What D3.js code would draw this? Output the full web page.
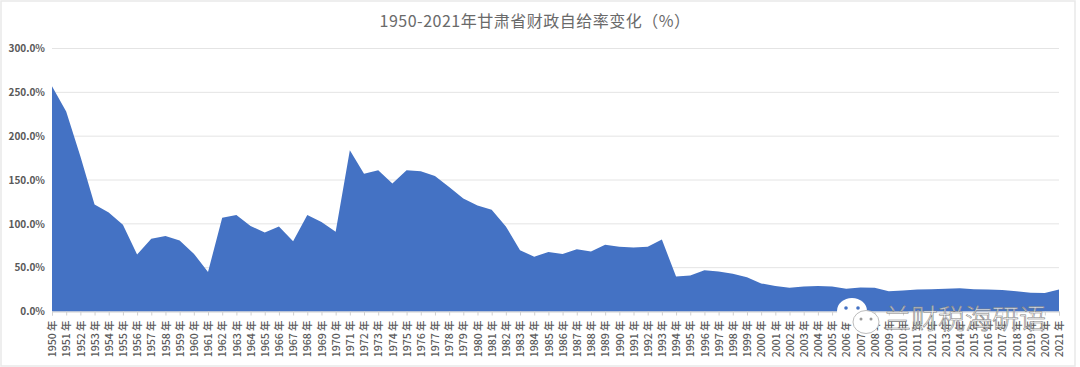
<!DOCTYPE html>
<html>
<head>
<meta charset="utf-8">
<script src="https://cdn.jsdelivr.net/npm/d3@7"></script>
<style>
  html, body { margin: 0; padding: 0; background: #fff; }
  svg { display: block; }
</style>
</head>
<body>
<script>
const years = d3.range(1950, 2022).map(String);
const rates = [257,228,177,122,113,99,65,83,86,81,66,45,107,110,97.5,90,97,80,110,102,91,184,
  157,161,146,161,160,154.5,142,129,121,116,97,70,62.5,68,65.5,71,68.5,76,74,73,74,82,40,41,47,45.5,
  43,39,32,29,27,28.5,29,28.5,26,27.5,27,23,24,25,25.5,26,26.5,25.5,25,24.5,23,21.5,21,25];
const yTicks = [0,50,100,150,200,250,300];
const titleText = "1950-2021年甘肃省财政自给率变化（%）";
const watermarkText = "兰财税海研语";

const width = 1080, height = 367;
const font = "'Noto Sans CJK SC', 'Noto Sans', sans-serif";

const svg = d3.select("body").append("svg")
    .attr("width", width)
    .attr("height", height);

// outer frame of the screenshot
svg.append("rect")
    .attr("x", 1).attr("y", 1)
    .attr("width", 1074).attr("height", 365)
    .attr("fill", "#fff")
    .attr("stroke", "#e9e9e9")
    .attr("stroke-width", 1.5);

let x = d3.scalePoint().domain(years).range([52, 1059]);
let y = d3.scaleLinear().domain([0, 300]).range([311.5, 48.5]);

// gridlines
svg.append("g")
    .selectAll("line")
    .data(yTicks.slice(1))
    .enter().append("line")
    .attr("x1", 52).attr("x2", 1059)
    .attr("y1", d => y(d)).attr("y2", d => y(d))
    .attr("stroke", "#e4e4e4")
    .attr("stroke-width", 1);

// area
let area = d3.area()
    .x((d, i) => x(years[i]))
    .y0(y(0))
    .y1(d => y(d));

svg.append("path")
    .datum(rates)
    .attr("fill", "#4472c4")
    .attr("d", area);

// y axis
let yAxis = svg.append("g")
    .attr("transform", "translate(52,0)")
    .call(d3.axisLeft(y).tickValues(yTicks).tickFormat(d => d3.format(".1f")(d) + "%").tickSize(0).tickPadding(7));
yAxis.select(".domain").remove();
yAxis.selectAll("text")
    .attr("fill", "#595959")
    .style("font-family", font)
    .style("font-size", "10px")
    .style("font-weight", "700");

// x axis
let xAxis = svg.append("g")
    .attr("transform", "translate(0,311.5)")
    .call(d3.axisBottom(x).tickFormat(d => d + " 年").tickSize(4).tickPadding(0));
xAxis.select(".domain").attr("stroke", "#d0d0d0");
xAxis.selectAll("line").attr("stroke", "#d0d0d0");
xAxis.selectAll("text")
    .attr("fill", "#595959")
    .attr("transform", "rotate(-90)")
    .attr("x", -9)
    .attr("y", 0)
    .attr("dy", "0.35em")
    .attr("text-anchor", "end")
    .style("font-family", font)
    .style("font-size", "10.5px")
    .style("font-weight", "500");

// title
svg.append("text")
    .attr("x", 535)
    .attr("y", 27)
    .attr("text-anchor", "middle")
    .attr("fill", "#6a6a6a")
    .style("font-family", font)
    .style("font-size", "16px")
    .style("letter-spacing", "0.5px")
    .text(titleText);

// wechat watermark: two bubbles and the account name
const bubbles = [
  {cx: 852, cy: 311, rx: 15, ry: 13, fill: "#fff", stroke: "none", eye: "#4472c4", gap: 6, r: 1.8},
  {cx: 866, cy: 322, rx: 13, ry: 11.5, fill: "#fff", stroke: "#bdbdbd", eye: "#9a9a9a", gap: 5, r: 1.5}
];
let mark = svg.append("g");
bubbles.forEach(b => {
  mark.append("ellipse")
      .attr("cx", b.cx).attr("cy", b.cy)
      .attr("rx", b.rx).attr("ry", b.ry)
      .attr("fill", b.fill).attr("stroke", b.stroke);
  [-1, 1].forEach(s => {
    mark.append("circle")
        .attr("cx", b.cx + s * b.gap).attr("cy", b.cy - 3)
        .attr("r", b.r).attr("fill", b.eye);
  });
});
mark.append("text")
    .attr("x", 884)
    .attr("y", 329)
    .attr("fill", "#fff")
    .attr("fill-opacity", 0.8)
    .attr("stroke", "#808080")
    .attr("stroke-width", 0.6)
    .style("font-family", font)
    .style("font-size", "27px")
    .style("font-weight", "300")
    .text(watermarkText);
</script>
</body>
</html>
